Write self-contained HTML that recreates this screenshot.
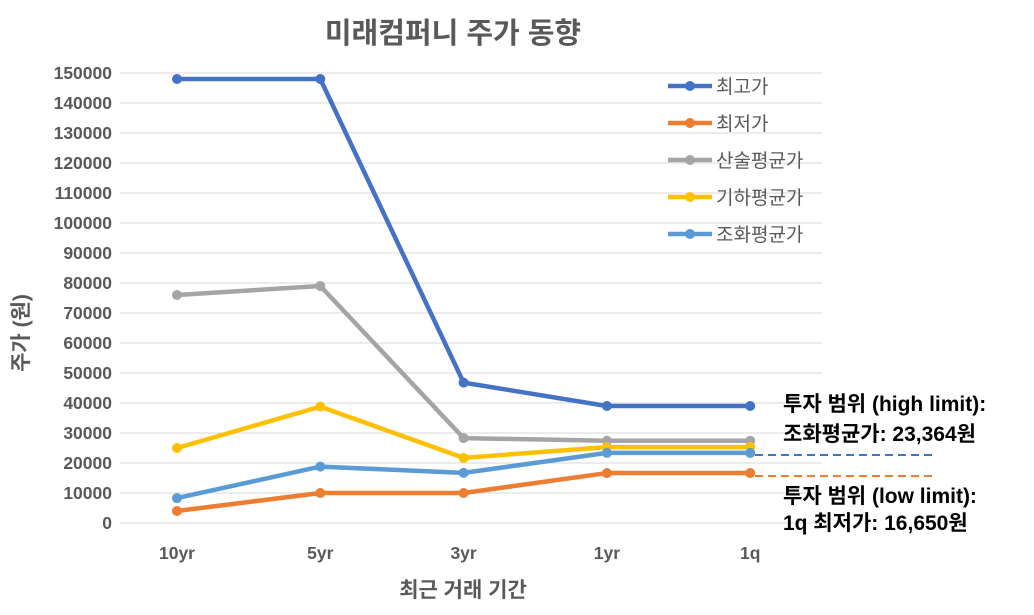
<!DOCTYPE html>
<html><head><meta charset="utf-8"><style>
body{margin:0;background:#fff;}
svg text{font-family:"Liberation Sans","Noto Sans CJK KR",sans-serif;}
</style></head><body>
<svg width="1034" height="610" viewBox="0 0 1034 610" id="chart">
<text x="453" y="43" text-anchor="middle" font-size="29" font-weight="bold" fill="#595959">미래컴퍼니 주가 동향</text>
<g id="grid"></g><g id="yticks"></g><g id="xticks"></g><g id="series"></g><g id="legend"></g>
<text transform="translate(28,333) rotate(-90)" text-anchor="middle" font-size="21" font-weight="bold" fill="#595959">주가 (원)</text>
<text x="463" y="597" text-anchor="middle" font-size="21" font-weight="bold" fill="#595959">최근 거래 기간</text>
<line x1="755" y1="455" x2="933" y2="455" stroke="#4472C4" stroke-width="2" stroke-dasharray="8,5"/>
<line x1="755" y1="476" x2="933" y2="476" stroke="#ED7D31" stroke-width="2" stroke-dasharray="8,5"/>
<text x="783" y="411" font-size="21" font-weight="bold" fill="#000">투자 범위 (high limit):</text>
<text x="783" y="441" font-size="21" font-weight="bold" fill="#000">조화평균가: 23,364원</text>
<text x="783" y="503" font-size="21" font-weight="bold" fill="#000">투자 범위 (low limit):</text>
<text x="783" y="530" font-size="21" font-weight="bold" fill="#000">1q 최저가: 16,650원</text>
</svg>
<script>
const categories=["10yr","5yr","3yr","1yr","1q"];
const seriesNames=["최고가","최저가","산술평균가","기하평균가","조화평균가"];
const highPrice=[148000,148000,46800,39000,39000];
const lowPrice=[4000,10000,10000,16650,16650];
const arithMean=[76000,79000,28300,27400,27400];
const geoMean=[25000,38800,21700,25300,25300];
const harmMean=[8300,18800,16700,23364,23364];
const yTicks=[0,10000,20000,30000,40000,50000,60000,70000,80000,90000,100000,110000,120000,130000,140000,150000];
const colors=["#4472C4","#ED7D31","#A5A5A5","#FFC000","#5B9BD5"];
const NS="http://www.w3.org/2000/svg";
const y=v=>523-v*(450/150000);
const x=i=>177+i*143.3;
function mk(tag,attrs,parent){const e=document.createElementNS(NS,tag);for(const k in attrs)e.setAttribute(k,attrs[k]);document.getElementById(parent).appendChild(e);return e;}
yTicks.forEach(t=>{
 if(t>0){const g=mk("line",{x1:120,x2:822,y1:y(t),y2:y(t),stroke:"#D9D9D9","stroke-width":1},"grid");
 
 }
 const tx=mk("text",{x:112,y:y(t)+6,"text-anchor":"end","font-size":"17.5","font-weight":"bold",fill:"#595959"},"yticks");
 tx.textContent=t;
 
 
});
const base=mk("line",{x1:120,x2:822,y1:523,y2:523,stroke:"#D9D9D9","stroke-width":1},"grid");


categories.forEach((c,i)=>{
 const tx=mk("text",{x:x(i),y:559,"text-anchor":"middle","font-size":"17.5","font-weight":"bold",fill:"#595959"},"xticks");
 tx.textContent=c;
 
 
});
[highPrice,lowPrice,arithMean,geoMean,harmMean].forEach((s,k)=>{
 const pl=mk("polyline",{points:s.map((v,i)=>x(i)+","+y(v)).join(" "),fill:"none",stroke:colors[k],"stroke-width":4.5,"stroke-linejoin":"round"},"series");
 
 
 s.forEach((v,i)=>{
  const c=mk("circle",{cx:x(i),cy:y(v),r:5,fill:colors[k]},"series");
  
  
 });
 const ly=86+k*37;
 const ll=mk("line",{x1:668,x2:712,y1:ly,y2:ly,stroke:colors[k],"stroke-width":4.5},"legend");
 
 
 const lc=mk("circle",{cx:690,cy:ly,r:5,fill:colors[k]},"legend");
 
 
 const lt=mk("text",{x:716,y:ly+7,"font-size":"19",fill:"#595959"},"legend");
 lt.textContent=seriesNames[k];
 
 
});
</script>
</body></html>
